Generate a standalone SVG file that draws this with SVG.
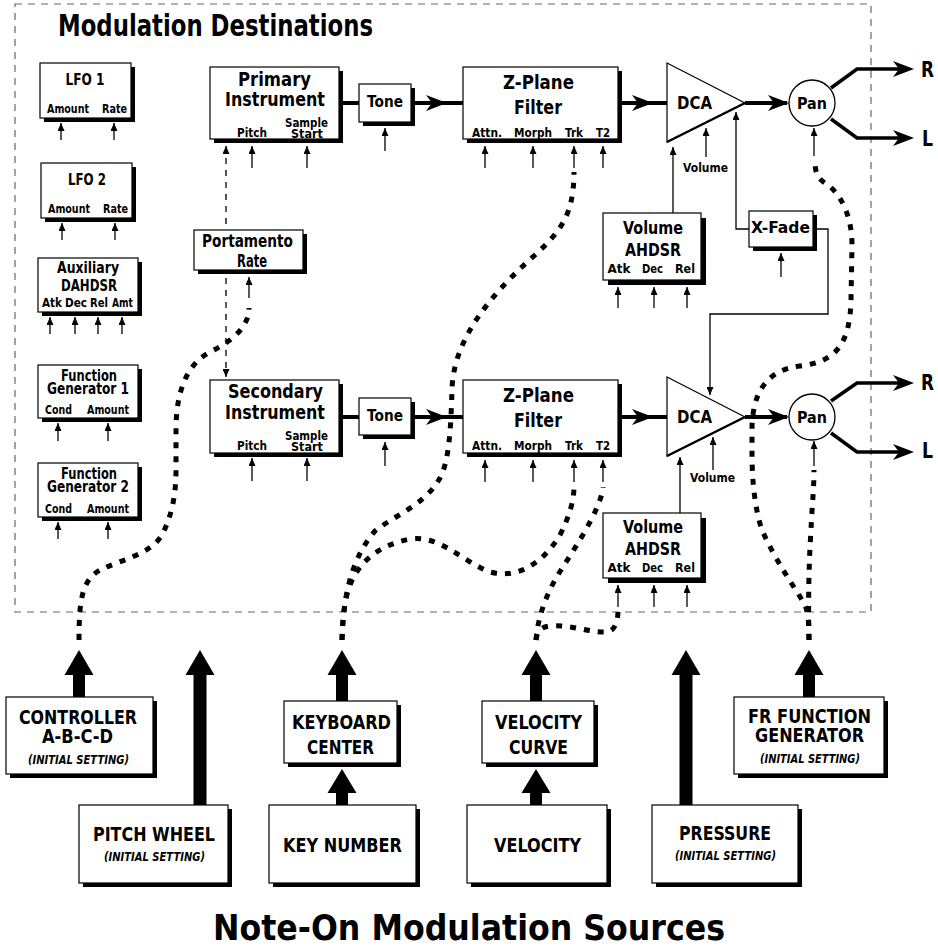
<svg xmlns="http://www.w3.org/2000/svg" xmlns:xlink="http://www.w3.org/1999/xlink" width="938" height="951" viewBox="0 0 938 951">
<style>
.b{font-family:"DejaVu Sans","Liberation Sans",sans-serif;font-weight:700;text-anchor:middle;fill:#000}
.l{text-anchor:start}
.i{font-style:italic;font-weight:700}
.s11{font-size:12px}.s12{font-size:12.5px}.s13{font-size:13px}.s14{font-size:14px}.s15{font-size:15px}.s16{font-size:16px}.s17{font-size:17px}.s19{font-size:19px}.s21{font-size:21px}
.box{fill:#fff;stroke:#000;stroke-width:1.2}
.sh{fill:#000}
.thin{fill:none;stroke:#000;stroke-width:1.3}
.flow{fill:none;stroke:#000;stroke-width:4}
.dot{fill:none;stroke:#000;stroke-width:5;stroke-dasharray:6 8}
.frame{fill:none;stroke:#666;stroke-width:1.2;stroke-dasharray:7 6}
</style>
<defs>
<marker id="ah" viewBox="0 0 8 7" refX="8" refY="3.5" markerWidth="8" markerHeight="7" markerUnits="userSpaceOnUse" orient="auto-start-reverse"><path d="M0,0 L8,3.5 L0,7 Z" fill="#000"/></marker>
<path id="bh" d="M0,0 L-21,-8 L-15,0 L-21,8 Z" fill="#000"/>
</defs>
<rect width="938" height="951" fill="#fff"/>
<rect class="frame" x="15" y="4" width="856" height="608"/>
<text class="b l" x="58" y="36" style="font-size:30px" textLength="315" lengthAdjust="spacingAndGlyphs">Modulation Destinations</text>
<text class="b" x="469" y="940" style="font-size:36px" textLength="512" lengthAdjust="spacingAndGlyphs">Note-On Modulation Sources</text>

<g id="connectors">
<path class="flow" d="M339,103 H359 M411,103 H463 M618,103 H667 M745,103 H787"/>
<use xlink:href="#bh" x="447" y="103"/>
<use xlink:href="#bh" x="653" y="103"/>
<use xlink:href="#bh" x="789" y="103"/>
<path class="flow" style="stroke-width:3.5" d="M831,88 L857,69 H900 M831,119 L857,138 H900"/>
<use xlink:href="#bh" x="914" y="69"/>
<use xlink:href="#bh" x="914" y="138"/>
<path class="flow" d="M339,417 H359 M411,417 H463 M618,417 H667 M745,417 H787"/>
<use xlink:href="#bh" x="447" y="417"/>
<use xlink:href="#bh" x="653" y="417"/>
<use xlink:href="#bh" x="789" y="417"/>
<path class="flow" style="stroke-width:3.5" d="M831,401 L857,383 H900 M831,433 L857,452 H900"/>
<use xlink:href="#bh" x="914" y="383"/>
<use xlink:href="#bh" x="914" y="452"/>
<g class="thin" marker-end="url(#ah)">
<path d="M61,140 V123"/><path d="M114,140 V123"/>
<path d="M62,240 V223"/><path d="M115,240 V223"/>
<path d="M50,334 V317"/><path d="M75,334 V317"/><path d="M98,334 V317"/><path d="M122,334 V317"/>
<path d="M58,441 V423"/><path d="M108,441 V423"/>
<path d="M58,539 V522"/><path d="M108,539 V522"/>
<path d="M252,168 V146"/><path d="M307,168 V146"/>
<path d="M385,151 V128"/>
<path d="M485,168 V146"/><path d="M533,168 V146"/><path d="M574,168 V146"/><path d="M603,168 V146"/>
<path d="M706,157 V128"/>
<path d="M673,213 V147"/>
<path d="M749,229 H736 V112"/>
<path d="M781,277 V253"/>
<path d="M813,229 H828 V314 H710 V395"/>
<path d="M618,308 V287"/><path d="M654,308 V287"/><path d="M687,308 V287"/>
<path d="M249,298 V277"/>
<path d="M814,156 V128"/>
<path d="M252,481 V458"/><path d="M307,481 V458"/>
<path d="M385,466 V442"/>
<path d="M485,482 V460"/><path d="M533,482 V460"/><path d="M574,482 V460"/><path d="M603,482 V460"/>
<path d="M713,470 V437"/>
<path d="M680,513 V457"/>
<path d="M618,607 V585"/><path d="M654,607 V585"/><path d="M687,607 V585"/>
<path d="M814,466 V441"/>
</g>
<path class="thin" style="stroke-dasharray:6 6" marker-start="url(#ah)" marker-end="url(#ah)" d="M226,146 V377"/>
<g fill="#000">
<path d="M79,650 L93.5,675 L85,675 L85,697 L73,697 L73,675 L64.5,675 Z"/>
<path d="M200,650 L214.5,675 L206.5,675 L206.5,805 L193.5,805 L193.5,675 L185.5,675 Z"/>
<path d="M342,650 L356.5,675 L348,675 L348,701 L336,701 L336,675 L327.5,675 Z"/>
<path d="M342,769 L356.5,793 L348,793 L348,805 L336,805 L336,793 L327.5,793 Z"/>
<path d="M536,650 L550.5,675 L542,675 L542,701 L530,701 L530,675 L521.5,675 Z"/>
<path d="M536,769 L550.5,793 L542,793 L542,805 L530,805 L530,793 L521.5,793 Z"/>
<path d="M686,650 L700.5,675 L692.5,675 L692.5,805 L679.5,805 L679.5,675 L671.5,675 Z"/>
<path d="M809,650 L823.5,675 L815,675 L815,697 L803,697 L803,675 L794.5,675 Z"/>
</g>
<path class="dot" d="M79,640 C79,600 82,580 100,570 C120,560 150,555 162,535 C172,515 176,495 176,470 L176,430 C176,395 185,365 210,352 C235,340 249,325 249,308"/>
<path class="dot" d="M342,640 C343,600 350,560 375,531 C395,515 425,505 440,478 C450,460 451,420 452,390 C453,340 490,295 535,255 C560,232 574,215 574,172"/>
<path class="dot" d="M342,640 C343,610 346,595 350,585 C360,560 380,545 410,539 C440,535 460,560 490,572 C520,580 545,560 560,535 C570,515 574,500 574,486"/>
<path class="dot" d="M536,640 C538,615 548,590 561,570 C575,548 590,525 598,505 C601,497 603,492 603,487"/>
<path class="dot" d="M536,640 C537,632 540,627 550,626 C570,624 590,633 607,632 C616,630 618,620 618,610"/>
<path class="dot" d="M809,640 C809,620 808,608 802,600 C795,588 775,560 762,530 C755,510 752,480 752,455 L752,430 C752,395 765,370 800,366 C835,362 850,345 851,300 L852,245 C852,215 840,192 825,183 C817,178 815,172 815,160"/>
<path class="dot" d="M809,640 C808,600 809,560 811,530 C812,505 814,490 814,470"/>
</g>

<g id="lfo1"><rect class="sh" x="44" y="67" width="91" height="55"/><rect class="box" x="40" y="63" width="91" height="55"/>
<text class="b s15" x="85" y="85" textLength="39" lengthAdjust="spacingAndGlyphs">LFO 1</text><text class="b s11" x="68" y="113" textLength="42" lengthAdjust="spacingAndGlyphs">Amount</text><text class="b s11" x="114.5" y="113" textLength="25" lengthAdjust="spacingAndGlyphs">Rate</text></g>
<g id="lfo2"><rect class="sh" x="45" y="167" width="91" height="55"/><rect class="box" x="41" y="163" width="91" height="55"/>
<text class="b s15" x="87" y="185" textLength="38" lengthAdjust="spacingAndGlyphs">LFO 2</text><text class="b s11" x="69" y="213" textLength="42" lengthAdjust="spacingAndGlyphs">Amount</text><text class="b s11" x="115.5" y="213" textLength="25" lengthAdjust="spacingAndGlyphs">Rate</text></g>
<g id="aux"><rect class="sh" x="42" y="262" width="100" height="54"/><rect class="box" x="38" y="258" width="100" height="54"/>
<text class="b s15" x="88" y="273" textLength="62" lengthAdjust="spacingAndGlyphs">Auxiliary</text><text class="b s15" x="89" y="291" textLength="56" lengthAdjust="spacingAndGlyphs">DAHDSR</text>
<text class="b s12" x="52" y="307" textLength="20" lengthAdjust="spacingAndGlyphs">Atk</text><text class="b s12" x="76" y="307" textLength="22" lengthAdjust="spacingAndGlyphs">Dec</text><text class="b s12" x="99" y="307" textLength="18" lengthAdjust="spacingAndGlyphs">Rel</text><text class="b s12" x="122.5" y="307" textLength="21" lengthAdjust="spacingAndGlyphs">Amt</text></g>
<g id="fg1"><rect class="sh" x="42" y="369" width="100" height="53"/><rect class="box" x="38" y="365" width="100" height="53"/>
<text class="b s15"><tspan x="89" y="381" textLength="56" lengthAdjust="spacingAndGlyphs">Function</tspan><tspan x="88" y="394" textLength="82" lengthAdjust="spacingAndGlyphs">Generator 1</tspan></text>
<text class="b s13" x="58.5" y="414" textLength="27" lengthAdjust="spacingAndGlyphs">Cond</text><text class="b s13" x="108" y="414" textLength="42" lengthAdjust="spacingAndGlyphs">Amount</text></g>
<g id="fg2"><rect class="sh" x="42" y="467" width="100" height="54"/><rect class="box" x="38" y="463" width="100" height="54"/>
<text class="b s15"><tspan x="89" y="479" textLength="56" lengthAdjust="spacingAndGlyphs">Function</tspan><tspan x="88" y="492" textLength="82" lengthAdjust="spacingAndGlyphs">Generator 2</tspan></text>
<text class="b s13" x="58.5" y="513" textLength="27" lengthAdjust="spacingAndGlyphs">Cond</text><text class="b s13" x="108" y="513" textLength="42" lengthAdjust="spacingAndGlyphs">Amount</text></g>

<g id="primary-instrument"><rect class="sh" x="214" y="71" width="129" height="72"/><rect class="box" x="210" y="67" width="129" height="72"/>
<text class="b s19" x="274.5" y="86" textLength="73" lengthAdjust="spacingAndGlyphs">Primary</text><text class="b s19" x="275" y="106" textLength="100" lengthAdjust="spacingAndGlyphs">Instrument</text>
<text class="b s12" x="252" y="137" textLength="30" lengthAdjust="spacingAndGlyphs">Pitch</text><text class="b s12"><tspan x="306.5" y="127" textLength="43" lengthAdjust="spacingAndGlyphs">Sample</tspan><tspan x="307" y="137.5" textLength="32" lengthAdjust="spacingAndGlyphs">Start</tspan></text></g>
<g id="tone1"><rect class="sh" x="363" y="88" width="52" height="38"/><rect class="box" x="359" y="84" width="52" height="38"/>
<text class="b s16" x="385" y="107" textLength="36" lengthAdjust="spacingAndGlyphs">Tone</text></g>
<g id="zplane1"><rect class="sh" x="467" y="71" width="155" height="72"/><rect class="box" x="463" y="67" width="155" height="72"/>
<text class="b s19" x="538.5" y="89" textLength="71" lengthAdjust="spacingAndGlyphs">Z-Plane</text><text class="b s19" x="538" y="114" textLength="48" lengthAdjust="spacingAndGlyphs">Filter</text>
<text class="b s12" x="487" y="137" textLength="30" lengthAdjust="spacingAndGlyphs">Attn.</text><text class="b s12" x="533" y="137" textLength="38" lengthAdjust="spacingAndGlyphs">Morph</text><text class="b s12" x="574" y="137" textLength="18" lengthAdjust="spacingAndGlyphs">Trk</text><text class="b s12" x="603" y="137" textLength="14" lengthAdjust="spacingAndGlyphs">T2</text></g>
<g id="dca1"><path d="M667,63 L745,103 L667,142 Z" fill="#fff" stroke="#000" stroke-width="1.2"/><path d="M667,142 L745,103" stroke="#000" stroke-width="2.5"/>
<text class="b s17" x="694.5" y="109" textLength="35" lengthAdjust="spacingAndGlyphs">DCA</text></g>
<g id="pan1"><circle cx="812" cy="103" r="23" fill="#fff" stroke="#000" stroke-width="1.3"/><text class="b s15" x="812" y="109" textLength="30" lengthAdjust="spacingAndGlyphs">Pan</text></g>
<g id="out1"><text class="b s21 l" x="921" y="77" textLength="13" lengthAdjust="spacingAndGlyphs">R</text><text class="b s21 l" x="922" y="146" textLength="11" lengthAdjust="spacingAndGlyphs">L</text></g>
<g id="vol-label1"><text class="b s11" x="705.5" y="172" textLength="45" lengthAdjust="spacingAndGlyphs">Volume</text></g>
<g id="xfade"><rect class="sh" x="753" y="215" width="64" height="36"/><rect class="box" x="749" y="211" width="64" height="36"/>
<text class="b s16" x="780.5" y="233" textLength="59" lengthAdjust="spacingAndGlyphs">X-Fade</text></g>
<g id="vol-ahdsr1"><rect class="sh" x="608" y="218" width="98" height="67"/><rect class="box" x="603" y="213" width="98" height="67"/>
<text class="b s17" x="653" y="234" textLength="60" lengthAdjust="spacingAndGlyphs">Volume</text><text class="b s17" x="653" y="256" textLength="56" lengthAdjust="spacingAndGlyphs">AHDSR</text>
<text class="b s13" x="619" y="273" textLength="23" lengthAdjust="spacingAndGlyphs">Atk</text><text class="b s13" x="652.5" y="273" textLength="21" lengthAdjust="spacingAndGlyphs">Dec</text><text class="b s13" x="685" y="273" textLength="20" lengthAdjust="spacingAndGlyphs">Rel</text></g>
<g id="portamento"><rect class="sh" x="198" y="234" width="109" height="40"/><rect class="box" x="194" y="230" width="109" height="40"/>
<text class="b s17" x="247.5" y="247" textLength="91" lengthAdjust="spacingAndGlyphs">Portamento</text><text class="b s17" x="252" y="267" textLength="30" lengthAdjust="spacingAndGlyphs">Rate</text></g>

<g id="secondary-instrument"><rect class="sh" x="214" y="384" width="129" height="73"/><rect class="box" x="210" y="380" width="129" height="73"/>
<text class="b s19" x="275.5" y="398" textLength="95" lengthAdjust="spacingAndGlyphs">Secondary</text><text class="b s19" x="275" y="419" textLength="100" lengthAdjust="spacingAndGlyphs">Instrument</text>
<text class="b s12" x="252" y="450" textLength="30" lengthAdjust="spacingAndGlyphs">Pitch</text><text class="b s12"><tspan x="306.5" y="440" textLength="43" lengthAdjust="spacingAndGlyphs">Sample</tspan><tspan x="307" y="450.5" textLength="32" lengthAdjust="spacingAndGlyphs">Start</tspan></text></g>
<g id="tone2"><rect class="sh" x="363" y="402" width="52" height="37"/><rect class="box" x="359" y="398" width="52" height="37"/>
<text class="b s16" x="385" y="421" textLength="36" lengthAdjust="spacingAndGlyphs">Tone</text></g>
<g id="zplane2"><rect class="sh" x="467" y="384" width="155" height="73"/><rect class="box" x="463" y="380" width="155" height="73"/>
<text class="b s19" x="538.5" y="402" textLength="71" lengthAdjust="spacingAndGlyphs">Z-Plane</text><text class="b s19" x="538" y="427" textLength="48" lengthAdjust="spacingAndGlyphs">Filter</text>
<text class="b s12" x="487" y="450" textLength="30" lengthAdjust="spacingAndGlyphs">Attn.</text><text class="b s12" x="533" y="450" textLength="38" lengthAdjust="spacingAndGlyphs">Morph</text><text class="b s12" x="574" y="450" textLength="18" lengthAdjust="spacingAndGlyphs">Trk</text><text class="b s12" x="603" y="450" textLength="14" lengthAdjust="spacingAndGlyphs">T2</text></g>
<g id="dca2"><path d="M667,377 L745,417 L667,456 Z" fill="#fff" stroke="#000" stroke-width="1.2"/><path d="M667,456 L745,417" stroke="#000" stroke-width="2.5"/>
<text class="b s17" x="694.5" y="423" textLength="35" lengthAdjust="spacingAndGlyphs">DCA</text></g>
<g id="pan2"><circle cx="812" cy="417" r="23" fill="#fff" stroke="#000" stroke-width="1.3"/><text class="b s15" x="812" y="423" textLength="30" lengthAdjust="spacingAndGlyphs">Pan</text></g>
<g id="out2"><text class="b s21 l" x="921" y="390" textLength="13" lengthAdjust="spacingAndGlyphs">R</text><text class="b s21 l" x="922" y="458" textLength="11" lengthAdjust="spacingAndGlyphs">L</text></g>
<g id="vol-label2"><text class="b s11" x="712.5" y="482" textLength="45" lengthAdjust="spacingAndGlyphs">Volume</text></g>
<g id="vol-ahdsr2"><rect class="sh" x="608" y="518" width="98" height="65"/><rect class="box" x="603" y="513" width="98" height="65"/>
<text class="b s17" x="653" y="533" textLength="60" lengthAdjust="spacingAndGlyphs">Volume</text><text class="b s17" x="653" y="555" textLength="56" lengthAdjust="spacingAndGlyphs">AHDSR</text>
<text class="b s13" x="619" y="572" textLength="23" lengthAdjust="spacingAndGlyphs">Atk</text><text class="b s13" x="652.5" y="572" textLength="21" lengthAdjust="spacingAndGlyphs">Dec</text><text class="b s13" x="685" y="572" textLength="20" lengthAdjust="spacingAndGlyphs">Rel</text></g>

<g id="controller"><rect class="sh" x="10" y="701" width="147" height="77"/><rect class="box" x="6" y="697" width="147" height="77"/>
<text class="b s19" x="78" y="724" textLength="118" lengthAdjust="spacingAndGlyphs">CONTROLLER</text><text class="b s19" x="77.5" y="743" textLength="71" lengthAdjust="spacingAndGlyphs">A-B-C-D</text><text class="b i s12" x="78.5" y="764" textLength="101" lengthAdjust="spacingAndGlyphs">(INITIAL SETTING)</text></g>
<g id="pitch-wheel"><rect class="sh" x="83" y="809" width="149" height="78"/><rect class="box" x="79" y="805" width="149" height="78"/>
<text class="b s19" x="154" y="841" textLength="122" lengthAdjust="spacingAndGlyphs">PITCH WHEEL</text><text class="b i s12" x="154.5" y="861" textLength="101" lengthAdjust="spacingAndGlyphs">(INITIAL SETTING)</text></g>
<g id="keyboard-center"><rect class="sh" x="288" y="705" width="113" height="62"/><rect class="box" x="284" y="701" width="113" height="62"/>
<text class="b s19" x="341.5" y="729" textLength="99" lengthAdjust="spacingAndGlyphs">KEYBOARD</text><text class="b s19" x="340.5" y="754" textLength="67" lengthAdjust="spacingAndGlyphs">CENTER</text></g>
<g id="key-number"><rect class="sh" x="273" y="809" width="147" height="78"/><rect class="box" x="269" y="805" width="147" height="78"/>
<text class="b s19" x="342.5" y="852" textLength="119" lengthAdjust="spacingAndGlyphs">KEY NUMBER</text></g>
<g id="velocity-curve"><rect class="sh" x="486" y="705" width="112" height="62"/><rect class="box" x="482" y="701" width="112" height="62"/>
<text class="b s19" x="538.5" y="729" textLength="87" lengthAdjust="spacingAndGlyphs">VELOCITY</text><text class="b s19" x="538.5" y="754" textLength="59" lengthAdjust="spacingAndGlyphs">CURVE</text></g>
<g id="velocity"><rect class="sh" x="471" y="809" width="140" height="78"/><rect class="box" x="467" y="805" width="140" height="78"/>
<text class="b s19" x="537.5" y="852" textLength="87" lengthAdjust="spacingAndGlyphs">VELOCITY</text></g>
<g id="pressure"><rect class="sh" x="656" y="809" width="146" height="78"/><rect class="box" x="652" y="805" width="146" height="78"/>
<text class="b s19" x="725" y="840" textLength="92" lengthAdjust="spacingAndGlyphs">PRESSURE</text><text class="b i s12" x="725.5" y="860" textLength="101" lengthAdjust="spacingAndGlyphs">(INITIAL SETTING)</text></g>
<g id="fr-function-generator"><rect class="sh" x="738" y="701" width="150" height="77"/><rect class="box" x="734" y="697" width="150" height="77"/>
<text class="b s19" x="809.5" y="723" textLength="123" lengthAdjust="spacingAndGlyphs">FR FUNCTION</text><text class="b s19" x="809.5" y="742" textLength="109" lengthAdjust="spacingAndGlyphs">GENERATOR</text><text class="b i s12" x="810" y="763" textLength="100" lengthAdjust="spacingAndGlyphs">(INITIAL SETTING)</text></g>
</svg>
